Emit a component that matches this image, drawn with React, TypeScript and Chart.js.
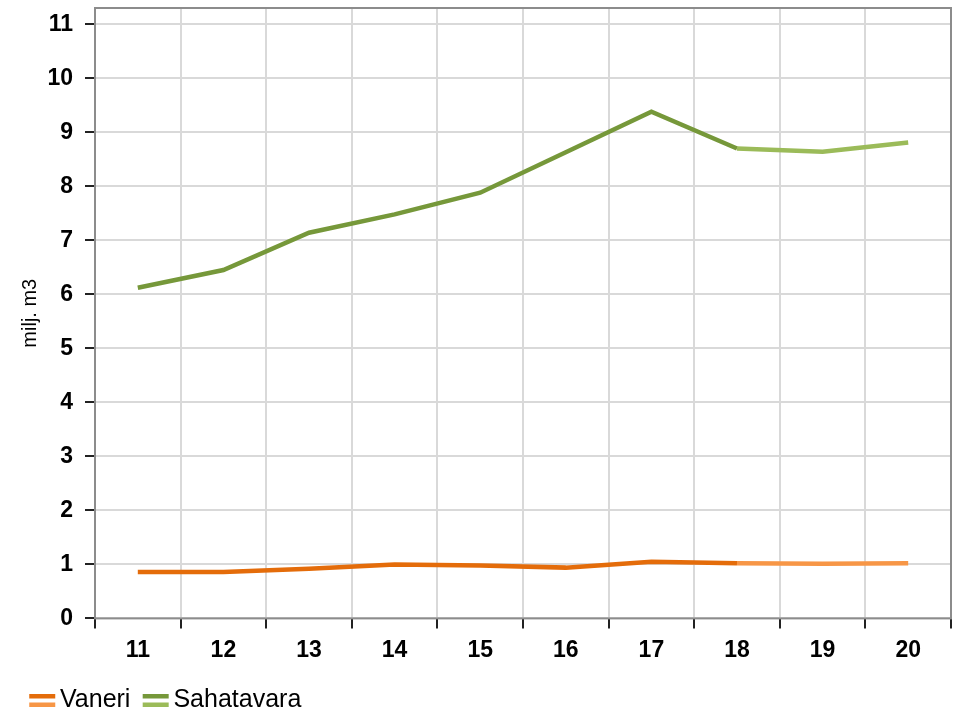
import React, { useEffect, useRef } from "react";
import { Chart, registerables } from "chart.js";

Chart.register(...registerables);

const categories = ["11", "12", "13", "14", "15", "16", "17", "18", "19", "20"];
const sahatavara = [6.12, 6.45, 7.14, 7.48, 7.88, 8.63, 9.38, 8.70, 8.64, 8.81];
const vaneri = [0.86, 0.86, 0.92, 1.0, 0.98, 0.94, 1.05, 1.02, 1.01, 1.02];
const forecastStartIndex = 7;
const yTicks = [0, 1, 2, 3, 4, 5, 6, 7, 8, 9, 10, 11];

const FONT = "'Liberation Sans', Arial, sans-serif";
const GREEN_DARK = "#76983a";
const GREEN_LIGHT = "#9bbb59";
const ORANGE_DARK = "#e46c0a";
const ORANGE_LIGHT = "#f79646";

function makeSwatch(dark: string, light: string): HTMLCanvasElement {
  const c = document.createElement("canvas");
  c.width = 60;
  c.height = 13;
  const ctx = c.getContext("2d")!;
  ctx.fillStyle = dark;
  ctx.fillRect(27, 0, 26, 4.5);
  ctx.fillStyle = light;
  ctx.fillRect(27, 8.5, 26, 4.5);
  return c;
}

const boxPlugin = {
  id: "boxPlugin",
  afterDraw(chart: any) {
    const { ctx, chartArea } = chart;
    ctx.save();
    ctx.strokeStyle = "#8c8c8c";
    ctx.lineWidth = 2;
    ctx.strokeRect(chartArea.left, chartArea.top, chartArea.right - chartArea.left, chartArea.bottom - chartArea.top);
    ctx.restore();
  },
};

export default function App() {
  const ref = useRef<HTMLCanvasElement | null>(null);

  useEffect(() => {
    document.body.style.margin = "0";
    if (!ref.current) return;
    const swV = makeSwatch(ORANGE_DARK, ORANGE_LIGHT);
    const swS = makeSwatch(GREEN_DARK, GREEN_LIGHT);
    const chart = new Chart(ref.current, {
      type: "line",
      data: {
        labels: categories,
        datasets: [
          {
            label: "Vaneri",
            data: vaneri,
            borderColor: ORANGE_DARK,
            borderWidth: 4.5,
            pointRadius: 0,
            tension: 0,
            segment: {
              borderColor: (c: any) => (c.p0DataIndex >= forecastStartIndex ? ORANGE_LIGHT : ORANGE_DARK),
            },
          },
          {
            label: "Sahatavara",
            data: sahatavara,
            borderColor: GREEN_DARK,
            borderWidth: 4.5,
            pointRadius: 0,
            tension: 0,
            segment: {
              borderColor: (c: any) => (c.p0DataIndex >= forecastStartIndex ? GREEN_LIGHT : GREEN_DARK),
            },
          },
        ],
      },
      options: {
        animation: false,
        responsive: true,
        maintainAspectRatio: false,
        layout: { padding: { left: 17, right: 8, top: 8, bottom: -13 } },
        plugins: {
          tooltip: { enabled: false },
          legend: {
            position: "bottom",
            align: "start",
            labels: {
              usePointStyle: true,
              pointStyleWidth: 30.5,
              padding: 0,
              color: "#000",
              font: { family: FONT, size: 25, lineHeight: 1 },
              generateLabels: () => [
                { text: "Vaneri", pointStyle: swV, datasetIndex: 0, hidden: false, lineWidth: 0, strokeStyle: "rgba(0,0,0,0)", fillStyle: "rgba(0,0,0,0)" } as any,
                { text: "Sahatavara", pointStyle: swS, datasetIndex: 1, hidden: false, lineWidth: 0, strokeStyle: "rgba(0,0,0,0)", fillStyle: "rgba(0,0,0,0)" } as any,
              ],
            },
          },
        },
        scales: {
          x: {
            offset: true,
            afterFit: (scale: any) => {
              scale.height += 16;
            },
            grid: {
              offset: true,
              color: "#d9d9d9",
              lineWidth: 2,
              tickLength: 10,
              tickColor: "#222",
              tickWidth: 2,
            },
            border: { display: false },
            ticks: {
              color: "#000",
              padding: 8,
              font: { family: FONT, size: 23, weight: "bold" },
            },
          },
          y: {
            min: 0,
            max: 11.3,
            afterBuildTicks: (axis: any) => {
              axis.ticks = yTicks.map((v) => ({ value: v }));
            },
            afterFit: (scale: any) => {
              scale.paddingTop = 0;
              scale.width = 78;
            },
            grid: {
              color: "#d9d9d9",
              lineWidth: 2,
              tickLength: 10,
              tickColor: "#222",
              tickWidth: 2,
            },
            border: { display: false },
            ticks: {
              color: "#000",
              padding: 12,
              font: { family: FONT, size: 23, weight: "bold" },
            },
            title: {
              display: true,
              text: "milj. m3",
              color: "#000",
              font: { family: FONT, size: 20 },
              padding: { top: 1, bottom: 5 },
            },
          },
        },
      },
      plugins: [boxPlugin],
    });
    return () => chart.destroy();
  }, []);

  return (
    <div style={{ width: 959, height: 710, position: "relative" }}>
      <canvas ref={ref} />
    </div>
  );
}
